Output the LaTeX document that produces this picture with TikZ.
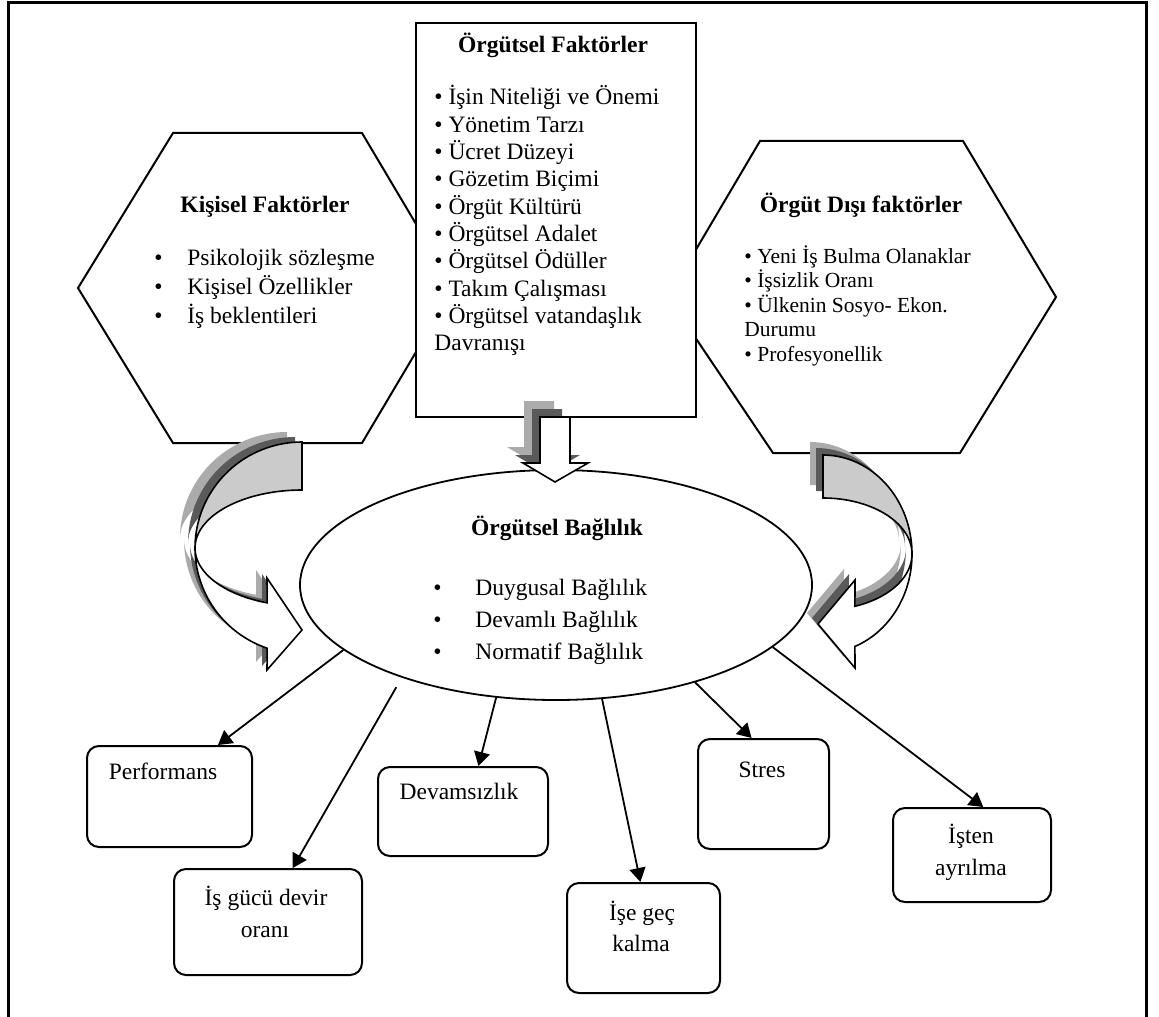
\documentclass[tikz,border=0pt]{standalone}
\usepackage{fontspec}
\setmainfont{Liberation Serif}
\usetikzlibrary{shapes.geometric,arrows.meta,calc}
\definecolor{bandgray}{HTML}{CBCBCB}
\definecolor{shlight}{HTML}{ABABAB}
\definecolor{shdark}{HTML}{5A5A5A}
\begin{document}
\begin{tikzpicture}[x=0.5pt,y=-0.5pt,
  hexa/.style={draw=black, line width=1pt, fill=white, line join=miter},
  orgbox/.style={draw=black, line width=1pt, fill=white, inner sep=0pt},
  outbox/.style={draw=black, line width=1pt, rounded corners=6pt, inner sep=0pt, fill=white},
  conn/.style={line width=0.9pt, -{Triangle[length=7pt,width=8pt]}},
  txt/.style={inner sep=0pt, font=\fontsize{11.75}{14}\selectfont},
  smalltxt/.style={inner sep=0pt, font=\fontsize{10.75}{13}\selectfont},
  ttl/.style={inner sep=0pt, font=\fontsize{11.75}{14}\selectfont\bfseries},
  blockline/.style={draw=black, line width=0.8pt, line join=miter}
]
\useasboundingbox (0,0) rectangle (1159,1016);

% outer frame (open at the bottom)
\draw[line width=1.5pt, line join=miter] (8.5,1030) -- (8.5,2.2) -- (1146.5,2.2) -- (1146.5,1030);

% hexagons
\draw[hexa] (78,288) -- (173,133) -- (362,133) -- (454,288) -- (362,443) -- (173,443) -- cycle;
\draw[hexa] (668,297) -- (760,141) -- (963,141) -- (1056,297) -- (960,453) -- (773,453) -- cycle;

% central rectangle
\node[orgbox, minimum width=140pt, minimum height=197pt] (org) at (556,220) {};

% curved arrows -- shapes
\def\LAback{(302,442) -- plot[domain=-90:-180,samples=40]({302+107*cos(\x)},{548+106*sin(\x)}) -- plot[domain=180:270,samples=40]({302+107*cos(\x)},{548+58*sin(\x)}) -- cycle}
\def\LAfront{(195,548) -- plot[domain=180:109,samples=40]({302+107*cos(\x)},{548+106*sin(\x)}) -- (267,670) -- (302,630) -- (267,578) -- plot[domain=109:180,samples=40]({302+107*cos(\x)},{548+58*sin(\x)}) -- cycle}
\def\RAback{(823,455) -- plot[domain=-90:0,samples=40]({823+89*cos(\x)},{554+99*sin(\x)}) -- plot[domain=0:-90,samples=40]({823+89*cos(\x)},{554+56*sin(\x)}) -- cycle}
\def\RAfront{(912,554) -- plot[domain=0:69,samples=40]({823+89*cos(\x)},{554+99*sin(\x)}) -- (855,668) -- (818,624) -- (855,580) -- plot[domain=69:0,samples=40]({823+89*cos(\x)},{554+56*sin(\x)}) -- cycle}

% left curved arrow with its shadow
\fill[shlight, shift={(-15,-10)}] \LAback;
\fill[shlight, shift={(-11,-8)}] \LAfront;
\fill[shdark, shift={(-7,-5)}] \LAback;
\fill[shdark, shift={(-5,-4)}] \LAfront;
\draw[blockline, fill=bandgray] \LAback;
\draw[blockline, fill=white] \LAfront;

% right curved arrow with its shadow
\fill[shlight, shift={(-13,-13)}] \RAback;
\fill[shlight, shift={(-11,-11)}] \RAfront;
\fill[shdark, shift={(-7,-7)}] \RAback;
\fill[shdark, shift={(-6,-6)}] \RAfront;
\draw[blockline, fill=bandgray] \RAback;
\draw[blockline, fill=white] \RAfront;

% ellipse
\node[draw, ellipse, line width=0.9pt, fill=white, minimum width=256pt, minimum height=115pt, inner sep=0pt] (bag) at (556,585) {};

% central down arrow with its shadow
\def\CAshape{(540,417) -- (540,463) -- (523,463) -- (555,482) -- (588,463) -- (570,463) -- (570,417) -- cycle}
\fill[shlight, shift={(-16,-16)}] \CAshape;
\fill[shdark, shift={(-8,-8)}] \CAshape;
\draw[blockline, fill=white] \CAshape;

% outcome boxes
\node[outbox, minimum width=82.5pt, minimum height=50.5pt] (perf) at (169.5,796.5) {};
\node[outbox, minimum width=94pt, minimum height=53pt] (isgucu) at (268,922) {};
\node[outbox, minimum width=85pt, minimum height=44.5pt] (devam) at (463,811.5) {};
\node[outbox, minimum width=76.5pt, minimum height=55pt] (gec) at (643.5,938) {};
\node[outbox, minimum width=65.5pt, minimum height=55pt] (stres) at (763.5,794) {};
\node[outbox, minimum width=79pt, minimum height=47pt] (ayril) at (972,855) {};

% connectors
\draw[conn] (bag.197.2) -- ($(perf.north west)!0.79!(perf.north east)$);
\draw[conn, shorten <=5.5pt] (bag.211.4) -- ($(isgucu.north west)!0.63!(isgucu.north east)$);
\draw[conn] (bag.242.6) -- ($(devam.north west)!0.59!(devam.north east)$);
\draw[conn] (bag.292.6) -- ($(gec.north west)!0.48!(gec.north east)$);
\draw[conn] (bag.325.9) -- ($(stres.north west)!0.41!(stres.north east)$);
\draw[conn] (bag.344.9) -- ($(ayril.north west)!0.57!(ayril.north east)$);

% texts: central rectangle
\node[ttl, anchor=base] (orgT) at (553,53) {Örgütsel Faktörler};
\foreach \t [count=\i] in {{• İşin Niteliği ve Önemi},{• Yönetim Tarzı},{• Ücret Düzeyi},{• Gözetim Biçimi},{• Örgüt Kültürü},{• Örgütsel Adalet},{• Örgütsel Ödüller},{• Takım Çalışması},{• Örgütsel vatandaşlık},{Davranışı}}
  \node[txt, anchor=base west] (orgL\i) at (434,{105+27.3*(\i-1)}) {\t};

% texts: left hexagon
\node[ttl, anchor=base] (kisT) at (265,213) {Kişisel Faktörler};
\foreach \t [count=\i] in {{Psikolojik sözleşme},{Kişisel Özellikler},{İş beklentileri}}
  \node[txt, anchor=base west] (kisL\i) at (154,{265+29*(\i-1)}) {\makebox[16.5pt][l]{•}\t};

% texts: right hexagon
\node[ttl, anchor=base] (disT) at (861,213) {Örgüt Dışı faktörler};
\foreach \t [count=\i] in {{• Yeni İş Bulma Olanaklar},{• İşsizlik Oranı},{• Ülkenin Sosyo- Ekon.},{Durumu},{• Profesyonellik}}
  \node[smalltxt, anchor=base west] (disL\i) at (744,{263+24.5*(\i-1)}) {\t};

% texts: ellipse
\node[ttl, anchor=base] (bagT) at (557,535) {Örgütsel Bağlılık};
\foreach \t [count=\i] in {{Duygusal Bağlılık},{Devamlı Bağlılık},{Normatif Bağlılık}}
  \node[txt, anchor=base west] (bagL\i) at (433,{595+32*(\i-1)}) {\makebox[21pt][l]{•}\t};

% texts: outcome boxes
\node[txt, anchor=base] (perfT) at (163,779) {Performans};
\node[txt, anchor=base] (isgucuT1) at (266,905) {İş gücü devir};
\node[txt, anchor=base] (isgucuT2) at (265,937) {oranı};
\node[txt, anchor=base] (devamT) at (459,799) {Devamsızlık};
\node[txt, anchor=base] (gecT1) at (642,920) {İşe geç};
\node[txt, anchor=base] (gecT2) at (641,951) {kalma};
\node[txt, anchor=base] (stresT) at (762,777) {Stres};
\node[txt, anchor=base] (ayrilT1) at (971,843) {İşten};
\node[txt, anchor=base] (ayrilT2) at (971,875) {ayrılma};
\end{tikzpicture}
\end{document}
